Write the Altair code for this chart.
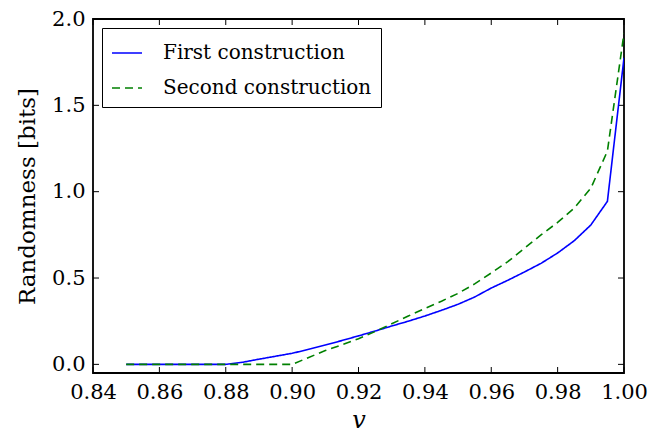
import altair as alt
import pandas as pd

v = [0.85, 0.855, 0.86, 0.865, 0.87, 0.875, 0.88, 0.885, 0.89, 0.895,
     0.90, 0.905, 0.91, 0.915, 0.92, 0.925, 0.93, 0.935, 0.94, 0.945,
     0.95, 0.955, 0.96, 0.965, 0.97, 0.975, 0.98, 0.985, 0.99, 0.995, 1.0]
first = [0.0, 0.0, 0.0, 0.0, 0.0, 0.0, 0.0, 0.012, 0.03, 0.047,
         0.064, 0.087, 0.112, 0.138, 0.165, 0.193, 0.222, 0.25, 0.28, 0.313,
         0.348, 0.39, 0.442, 0.487, 0.535, 0.585, 0.645, 0.716, 0.807, 0.944, 1.775]
second = [0.0, 0.0, 0.0, 0.0, 0.0, 0.0, 0.0, 0.0, 0.0, 0.0,
          0.0, 0.04, 0.08, 0.113, 0.148, 0.19, 0.235, 0.28, 0.324, 0.366,
          0.411, 0.466, 0.529, 0.595, 0.672, 0.75, 0.822, 0.905, 1.02, 1.235, 1.918]
series_names = ["First construction", "Second construction"]
x_ticks = [0.84, 0.86, 0.88, 0.90, 0.92, 0.94, 0.96, 0.98, 1.00]
y_ticks = [0.0, 0.5, 1.0, 1.5, 2.0]

rows = []
for xi, a, b in zip(v, first, second):
    rows.append({"v": xi, "value": a, "series": series_names[0]})
    rows.append({"v": xi, "value": b, "series": series_names[1]})
df = pd.DataFrame(rows)

W, H = 531, 354
FONT = "DejaVu Serif"
xs = alt.Scale(domain=[0.84, 1.0], nice=False, zero=False)
ys = alt.Scale(domain=[-0.05, 2.0], nice=False, zero=False)

leg = alt.Legend(title=None, orient="none", legendX=9, legendY=9,
                 symbolType="stroke", symbolSize=900,
                 symbolStrokeWidth=1.6, labelFontSize=20,
                 labelFont=FONT, labelOffset=20,
                 strokeColor="black", fillColor="white",
                 padding=9, rowPadding=9, cornerRadius=0,
                 labelLimit=400)

lines = alt.Chart(df).mark_line(strokeWidth=1.6, clip=True).encode(
    x=alt.X("v:Q", scale=xs, title="v",
            axis=alt.Axis(values=x_ticks, format=".2f", ticks=False, domain=False,
                          grid=False, labelPadding=8, labelFontSize=21,
                          labelFont=FONT, titleFont=FONT,
                          titleFontSize=24, titleFontStyle="italic",
                          titleFontWeight="normal", titlePadding=6,
                          labelFlush=False)),
    y=alt.Y("value:Q", scale=ys, title="Randomness [bits]",
            axis=alt.Axis(values=y_ticks, format=".1f", ticks=False, domain=False,
                          grid=False, labelPadding=8, labelFontSize=21,
                          labelFont=FONT, titleFont=FONT,
                          titleFontSize=23, titleFontWeight="normal", titlePadding=12,
                          labelFlush=False)),
    color=alt.Color("series:N",
                    scale=alt.Scale(domain=series_names, range=["#0000ff", "#008000"]),
                    legend=leg),
    strokeDash=alt.StrokeDash("series:N",
                              scale=alt.Scale(domain=series_names, range=[[1, 0], [8, 5]]),
                              legend=leg),
)

xt = pd.DataFrame({"t": x_ticks})
yt = pd.DataFrame({"t": y_ticks})
TL = 6
xb = alt.Chart(xt).mark_rule(color="black", strokeWidth=1).encode(
    x=alt.X("t:Q", scale=xs), y=alt.value(H), y2=alt.value(H - TL))
xtop = alt.Chart(xt).mark_rule(color="black", strokeWidth=1).encode(
    x=alt.X("t:Q", scale=xs), y=alt.value(0), y2=alt.value(TL))
yl = alt.Chart(yt).mark_rule(color="black", strokeWidth=1).encode(
    y=alt.Y("t:Q", scale=ys), x=alt.value(0), x2=alt.value(TL))
yr = alt.Chart(yt).mark_rule(color="black", strokeWidth=1).encode(
    y=alt.Y("t:Q", scale=ys), x=alt.value(W), x2=alt.value(W - TL))

chart = alt.layer(xb, xtop, yl, yr, lines).properties(
    width=W, height=H,
    autosize=alt.AutoSizeParams(type="none"),
    padding={"left": 85, "top": 11, "right": 38, "bottom": 66},
    background="white",
).configure_view(stroke="black", strokeWidth=1.8
).configure_axis(labelColor="black", titleColor="black"
).configure_legend(labelColor="black")

chart.save("out.html", embed_options={"renderer": "svg", "actions": False})
